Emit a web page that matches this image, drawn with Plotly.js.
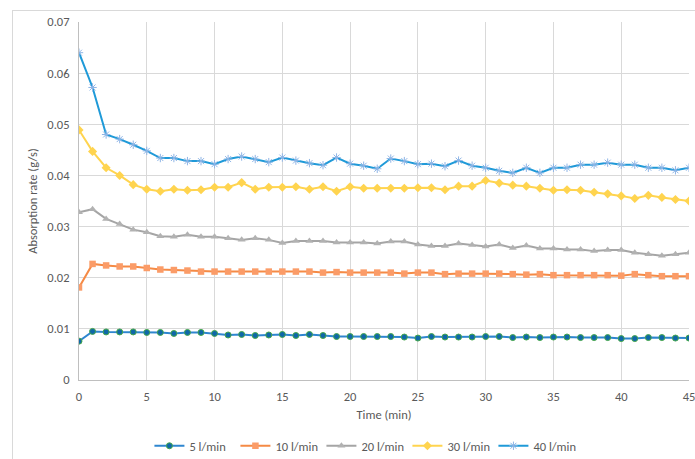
<!DOCTYPE html>
<html>
<head>
<meta charset="utf-8">
<script src="https://cdn.plot.ly/plotly-3.0.1.min.js"></script>
<style>
  html, body { margin: 0; padding: 0; background: #ffffff; overflow: hidden; }
  #frame { position: absolute; left: 12px; top: 10px; width: 720px; height: 480px;
           border-left: 1px solid #d9d9d9; border-top: 1px solid #d9d9d9; }
  #chart { position: absolute; left: 0; top: 0; width: 695px; height: 459px; }
</style>
</head>
<body>
<div id="frame"></div>
<div id="chart"></div>
<script>
// Time axis (minutes)
const timeMin = Array.from({length: 46}, (_, i) => i);

// Absorption rate (g/s) for each gas flow rate
const rate5 = [0.0076, 0.0095, 0.0094, 0.0094, 0.0094, 0.0093, 0.0093, 0.0091, 0.0093, 0.0093,
               0.0091, 0.0088, 0.0089, 0.0087, 0.0088, 0.0089, 0.0087, 0.0089, 0.0087, 0.0085,
               0.0085, 0.0085, 0.0085, 0.0085, 0.0084, 0.0082, 0.0085, 0.0084, 0.0084, 0.0084,
               0.0085, 0.0085, 0.0083, 0.0084, 0.0083, 0.0084, 0.0084, 0.0083, 0.0083, 0.0083,
               0.0081, 0.0081, 0.0083, 0.0083, 0.0082, 0.0082];
const rate10 = [0.0181, 0.0227, 0.0224, 0.0222, 0.0222, 0.0219, 0.0216, 0.0215, 0.0214, 0.0212,
                0.0212, 0.0212, 0.0212, 0.0212, 0.0212, 0.0212, 0.0212, 0.0212, 0.0210, 0.0211,
                0.0210, 0.0210, 0.0210, 0.0210, 0.0208, 0.0210, 0.0210, 0.0207, 0.0208, 0.0208,
                0.0208, 0.0208, 0.0207, 0.0206, 0.0207, 0.0205, 0.0205, 0.0205, 0.0205, 0.0205,
                0.0204, 0.0207, 0.0205, 0.0203, 0.0203, 0.0203];
const rate20 = [0.0328, 0.0334, 0.0315, 0.0305, 0.0294, 0.0289, 0.0281, 0.0280, 0.0284, 0.0280,
                0.0280, 0.0277, 0.0274, 0.0277, 0.0274, 0.0268, 0.0272, 0.0272, 0.0272, 0.0269,
                0.0269, 0.0269, 0.0267, 0.0271, 0.0271, 0.0265, 0.0262, 0.0262, 0.0267, 0.0264,
                0.0261, 0.0265, 0.0258, 0.0263, 0.0257, 0.0257, 0.0255, 0.0255, 0.0252, 0.0254,
                0.0254, 0.0249, 0.0246, 0.0243, 0.0246, 0.0249];
const rate30 = [0.0489, 0.0447, 0.0415, 0.0400, 0.0382, 0.0373, 0.0369, 0.0373, 0.0371, 0.0372,
                0.0377, 0.0377, 0.0386, 0.0373, 0.0377, 0.0377, 0.0378, 0.0373, 0.0378, 0.0369,
                0.0378, 0.0375, 0.0375, 0.0375, 0.0375, 0.0376, 0.0376, 0.0372, 0.0379, 0.0379,
                0.0390, 0.0385, 0.0381, 0.0379, 0.0375, 0.0371, 0.0372, 0.0371, 0.0367, 0.0364,
                0.0360, 0.0355, 0.0361, 0.0357, 0.0353, 0.0350];
const rate40 = [0.0640, 0.0572, 0.0480, 0.0471, 0.0460, 0.0448, 0.0434, 0.0434, 0.0428, 0.0428,
                0.0422, 0.0432, 0.0437, 0.0432, 0.0426, 0.0435, 0.0429, 0.0424, 0.0420, 0.0435,
                0.0423, 0.0419, 0.0413, 0.0433, 0.0428, 0.0422, 0.0423, 0.0418, 0.0429, 0.0419,
                0.0415, 0.0409, 0.0405, 0.0415, 0.0405, 0.0415, 0.0415, 0.0421, 0.0421, 0.0425,
                0.0421, 0.0421, 0.0415, 0.0415, 0.0410, 0.0415];

const seriesNames = ['5 l/min', '10 l/min', '20 l/min', '30 l/min', '40 l/min'];

const fontFamily = 'Calibri, Carlito, Lato, "Open Sans", sans-serif';
const fontSize = 12.5;
const grey = '#595959';

const traces = [
  {
    x: timeMin, y: rate5, name: seriesNames[0], type: 'scatter', mode: 'lines+markers',
    line: {color: '#2e86d0', width: 2},
    marker: {symbol: 'circle', size: 6, color: '#0f68a8', line: {color: '#47a84a', width: 1}}
  },
  {
    x: timeMin, y: rate10, name: seriesNames[1], type: 'scatter', mode: 'lines+markers',
    line: {color: '#f58a45', width: 2},
    marker: {symbol: 'square', size: 6.5, color: '#fb9c68', line: {width: 0}}
  },
  {
    x: timeMin, y: rate20, name: seriesNames[2], type: 'scatter', mode: 'lines+markers',
    line: {color: '#a5a5a5', width: 2},
    marker: {symbol: 'triangle-up', size: 7, color: '#b2b2b2', line: {width: 0}}
  },
  {
    x: timeMin, y: rate30, name: seriesNames[3], type: 'scatter', mode: 'lines+markers',
    line: {color: '#ffd44f', width: 2},
    marker: {symbol: 'diamond', size: 7, color: '#ffd44f', line: {width: 0}}
  },
  {
    x: timeMin, y: rate40, name: seriesNames[4], type: 'scatter', mode: 'lines+markers',
    line: {color: '#1f9ad8', width: 2},
    marker: {symbol: 'asterisk-open', size: 7, color: '#8fb5e6', line: {color: '#8fb5e6', width: 1}}
  }
];

const layout = {
  width: 695, height: 459,
  margin: {l: 79, r: 6, t: 22, b: 79},
  paper_bgcolor: 'rgba(0,0,0,0)',
  plot_bgcolor: 'rgba(0,0,0,0)',
  font: {family: fontFamily, size: fontSize, color: grey},
  showlegend: true,
  legend: {
    orientation: 'h', xref: 'container', yref: 'container',
    x: 0.215, xanchor: 'left', y: 0.028, yanchor: 'middle',
    font: {family: fontFamily, size: fontSize, color: grey},
    itemwidth: 30, entrywidth: 41, tracegroupgap: 0
  },
  xaxis: {
    range: [0, 45], dtick: 5, tick0: 0,
    showgrid: true, gridcolor: '#d9d9d9', gridwidth: 1,
    zeroline: false, showline: true, linecolor: '#bfbfbf', linewidth: 1,
    ticks: '', ticklabelstandoff: 5, ticklabeloverflow: 'allow',
    tickfont: {family: fontFamily, size: fontSize, color: grey},
    title: {text: 'Time (min)', font: {family: fontFamily, size: fontSize, color: grey}, standoff: 7}
  },
  yaxis: {
    range: [0, 0.07], dtick: 0.01, tick0: 0,
    showgrid: true, gridcolor: '#d9d9d9', gridwidth: 1,
    zeroline: false, showline: true, linecolor: '#bfbfbf', linewidth: 1,
    ticks: '', ticklabelstandoff: 6,
    tickfont: {family: fontFamily, size: fontSize, color: grey},
    title: {text: 'Absorption rate (g/s)', font: {family: fontFamily, size: fontSize, color: grey}, standoff: 6}
  }
};

Plotly.newPlot('chart', traces, layout, {displayModeBar: false, staticPlot: true});
</script>
</body>
</html>
